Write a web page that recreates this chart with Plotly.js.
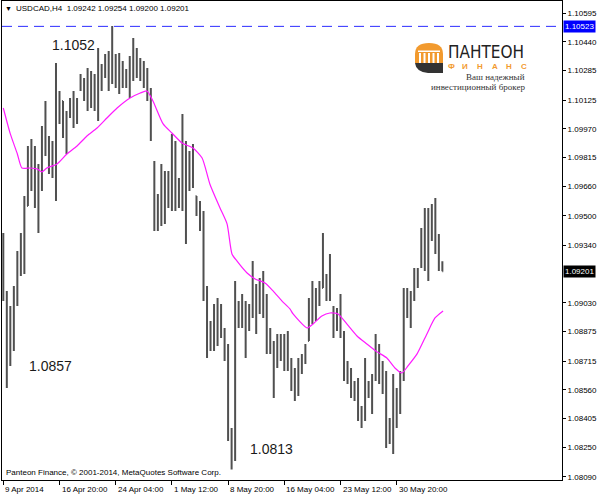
<!DOCTYPE html>
<html>
<head>
<meta charset="utf-8">
<script src="https://cdn.plot.ly/plotly-3.0.1.min.js"></script>
<style>
html,body{margin:0;padding:0;background:#fff;}
#chart{width:600px;height:496px;}
</style>
</head>
<body>
<div id="chart"></div>
<script>
// ---- DATA (USDCAD H4, bar index order) ----
const openP = [1.09337,1.09083,1.08824,1.08959,1.09067,1.09245,1.09337,1.09553,1.09796,1.09715,
1.09607,1.09715,1.09931,1.09904,1.09796,1.09850,1.10066,1.10120,1.09985,1.10039,
1.10093,1.10066,1.10185,1.10228,1.10174,1.10228,1.10147,1.10201,1.10309,1.10255,
1.10336,1.10282,1.10336,1.10255,1.10309,1.10228,1.10271,1.10336,1.10390,1.10309,
1.10282,1.10255,1.10174,1.09769,1.09499,1.09580,1.09688,1.09580,1.09661,1.09796,
1.09607,1.09661,1.09850,1.09742,1.09769,1.09607,1.09553,1.09499,1.09094,1.08851,
1.08878,1.08959,1.08986,1.08878,1.08770,1.08338,1.08203,1.09013,1.08959,1.09013,
1.08932,1.08986,1.09094,1.09040,1.09094,1.09040,1.08824,1.08797,1.08716,1.08797,
1.08770,1.08824,1.08716,1.08608,1.08581,1.08689,1.08716,1.08824,1.08986,1.09040,
1.09067,1.09110,1.09148,1.09121,1.08986,1.08932,1.08959,1.08851,1.08662,1.08635,
1.08554,1.08581,1.08446,1.08419,1.08581,1.08554,1.08635,1.08770,1.08635,1.08581,
1.08365,1.08338,1.08500,1.08527,1.08635,1.09040,1.09013,1.09067,1.09148,1.09229,
1.09391,1.09445,1.09499,1.09445,1.09364,1.09242];
const highP = [1.09407,1.09094,1.09013,1.09121,1.09310,1.09407,1.09607,1.09877,1.09915,1.09877,
1.09780,1.09985,1.10120,1.09931,1.09904,1.10325,1.10174,1.10120,1.10066,1.10136,
1.10174,1.10136,1.10266,1.10244,1.10298,1.10282,1.10266,1.10406,1.10320,1.10374,
1.10390,1.10525,1.10374,1.10379,1.10336,1.10293,1.10363,1.10460,1.10406,1.10352,
1.10336,1.10298,1.10190,1.09796,1.09618,1.09780,1.09742,1.09742,1.09942,1.09904,
1.09704,1.10050,1.09904,1.09850,1.09888,1.09607,1.09580,1.09526,1.09121,1.08932,
1.09024,1.09056,1.09024,1.08894,1.08808,1.08354,1.09148,1.09040,1.09078,1.09040,
1.09024,1.09256,1.09132,1.09164,1.09202,1.09078,1.08894,1.08824,1.08862,1.08862,
1.08862,1.08878,1.08732,1.08678,1.08732,1.08754,1.08808,1.09056,1.09148,1.09110,
1.09148,1.09407,1.09186,1.09294,1.09013,1.09002,1.09078,1.08878,1.08716,1.08678,
1.08608,1.08624,1.08473,1.08732,1.08608,1.08646,1.08862,1.08808,1.08716,1.08662,
1.08408,1.08646,1.08570,1.08662,1.09110,1.09110,1.09094,1.09218,1.09218,1.09434,
1.09542,1.09542,1.09564,1.09596,1.09402,1.09254];
const lowP = [1.09040,1.08570,1.08689,1.08770,1.09013,1.09175,1.09186,1.09553,1.09634,1.09542,
1.09407,1.09634,1.09823,1.09726,1.09704,1.09580,1.09996,1.09920,1.09834,1.10028,
1.09974,1.09996,1.10174,1.10120,1.10066,1.10082,1.10066,1.10012,1.10174,1.10244,
1.10174,1.10212,1.10190,1.10158,1.10190,1.10190,1.10136,1.10228,1.10244,1.10228,
1.10190,1.10120,1.09904,1.09418,1.09418,1.09445,1.09456,1.09542,1.09526,1.09526,
1.09542,1.09526,1.09348,1.09634,1.09650,1.09499,1.09418,1.09040,1.08732,1.08770,
1.08770,1.08797,1.08840,1.08716,1.08284,1.08130,1.08176,1.08894,1.08894,1.08732,
1.08878,1.08948,1.08862,1.08970,1.08948,1.08754,1.08754,1.08516,1.08678,1.08716,
1.08662,1.08662,1.08554,1.08500,1.08527,1.08646,1.08700,1.08824,1.08916,1.08932,
1.09013,1.09110,1.09040,1.09040,1.08840,1.08878,1.08840,1.08608,1.08592,1.08516,
1.08500,1.08392,1.08354,1.08392,1.08516,1.08430,1.08608,1.08592,1.08538,1.08246,
1.08268,1.08214,1.08354,1.08430,1.08608,1.08948,1.08894,1.09040,1.09110,1.09218,
1.09202,1.09148,1.09364,1.09294,1.09202,1.09200];
const closeP = [1.09083,1.08824,1.08959,1.09067,1.09245,1.09337,1.09553,1.09796,1.09715,1.09607,
1.09715,1.09931,1.09904,1.09796,1.09850,1.10066,1.10120,1.09985,1.10039,1.10093,
1.10066,1.10120,1.10228,1.10174,1.10228,1.10147,1.10201,1.10309,1.10255,1.10336,
1.10282,1.10336,1.10255,1.10309,1.10228,1.10271,1.10336,1.10390,1.10309,1.10282,
1.10255,1.10174,1.09931,1.09499,1.09580,1.09688,1.09580,1.09661,1.09796,1.09607,
1.09661,1.09850,1.09742,1.09769,1.09688,1.09553,1.09499,1.09094,1.08851,1.08878,
1.08959,1.08986,1.08878,1.08770,1.08338,1.08203,1.09013,1.08959,1.09013,1.08932,
1.08986,1.09148,1.09040,1.09094,1.09040,1.08824,1.08851,1.08716,1.08797,1.08770,
1.08824,1.08716,1.08608,1.08581,1.08689,1.08716,1.08770,1.08986,1.09040,1.09067,
1.09094,1.09202,1.09121,1.09067,1.08932,1.08959,1.08878,1.08662,1.08635,1.08554,
1.08581,1.08446,1.08419,1.08608,1.08554,1.08608,1.08770,1.08635,1.08581,1.08365,
1.08338,1.08500,1.08527,1.08635,1.09040,1.09013,1.09040,1.09148,1.09175,1.09391,
1.09445,1.09499,1.09445,1.09364,1.09256,1.09201];

// moving average (bar index, price)
const maIdx = [0,2,4,5.3,7.6,9.6,11,12.4,15.3,18.1,21,23.8,26.7,29.5,32.4,36.1,39,40.9,42.6,45.5,
48,50.9,54,56.6,58.8,61.7,63.7,65.1,66.5,69.4,71.7,74.5,76.8,79.3,81.6,82.5,86.5,88.2,90.7,93,
95.3,97.8,100.7,103.5,106.4,109.2,111.5,113.5,115.2,117.8,120.6,122.9,125.2];
const maVal = [1.10082,1.09942,1.09834,1.09758,1.09758,1.09753,1.09737,1.09758,1.09780,1.09834,
1.09877,1.09931,1.09974,1.10028,1.10082,1.10136,1.10163,1.10174,1.10120,1.09996,
1.09947,1.09893,1.09866,1.09812,1.09672,1.09542,1.09456,1.09294,1.09256,1.09191,
1.09159,1.09137,1.09094,1.09040,1.08997,1.08970,1.08894,1.08916,1.08959,1.08975,
1.08970,1.08916,1.08851,1.08808,1.08765,1.08732,1.08678,1.08651,1.08689,1.08754,
1.08862,1.08948,1.08986];

const yTickVals = [1.10595,1.10440,1.10285,1.10125,1.09970,1.09815,1.09660,1.09500,1.09340,
1.09030,1.08875,1.08715,1.08560,1.08405,1.08250,1.08090];
const xLabels = ['9 Apr 2014','16 Apr 20:00','24 Apr 04:00','1 May 12:00','8 May 20:00','16 May 04:00','23 May 12:00','30 May 20:00'];
const xLabelIdx = [0,16,32,48,64,80,96,112];
const levelLine = 1.10523;
const lastPrice = 1.09201;
const headerText = 'USDCAD,H4  1.09242 1.09254 1.09200 1.09201';
const extremes = [{t:'1.1052',px:50,py:45},{t:'1.0857',px:27,py:366},{t:'1.0813',px:248,py:449}];

// ---- LAYOUT HELPERS ----
const W=600,H=496,ML=2,MR=38,MT=1,MB=16;
const PW=W-ML-MR, PH=H-MT-MB;
const ppx = x => (x-ML)/PW;
const ppy = y => (H-MB-y)/PH;
const P = (x,y) => ppx(x).toFixed(5)+','+ppy(y).toFixed(5);

const xs = openP.map((_,i)=>i);
const FONT = 'Liberation Sans, Arial, sans-serif';

const traces = [
  {type:'ohlc', x:xs, open:openP, high:highP, low:lowP, close:closeP,
   increasing:{line:{color:'#505050',width:2}}, decreasing:{line:{color:'#505050',width:2}},
   tickwidth:0.25, hoverinfo:'skip', showlegend:false},
  {type:'scatter', mode:'lines', x:maIdx, y:maVal,
   line:{color:'#ff1aff',width:1.2,shape:'spline',smoothing:0.6}, hoverinfo:'skip', showlegend:false}
];

const ann = [];
ann.push({xref:'paper',yref:'paper',x:ppx(8),y:ppy(9),text:'▼',showarrow:false,
  xanchor:'center',yanchor:'middle',font:{family:FONT,size:7,color:'#000'}});
ann.push({xref:'paper',yref:'paper',x:ppx(14),y:ppy(9),text:headerText.replace(/  /g,'\u00a0 '),showarrow:false,
  xanchor:'left',yanchor:'middle',font:{family:FONT,size:8,color:'#000'}});
extremes.forEach(e=>ann.push({xref:'paper',yref:'paper',x:ppx(e.px),y:ppy(e.py),text:e.t,showarrow:false,
  xanchor:'left',yanchor:'middle',font:{family:FONT,size:14,color:'#1a1a1a'}}));
ann.push({xref:'paper',yref:'paper',x:ppx(4),y:ppy(472),text:'Panteon Finance, © 2001-2014, MetaQuotes Software Corp.',
  showarrow:false,xanchor:'left',yanchor:'middle',font:{family:FONT,size:8,color:'#000'}});
xLabels.forEach((t,k)=>ann.push({xref:'x',yref:'paper',x:xLabelIdx[k],y:0,yshift:-3,xshift:0,text:t,showarrow:false,
  xanchor:'left',yanchor:'top',font:{family:FONT,size:8,color:'#000'}}));
ann.push({xref:'paper',yref:'y',x:1,y:levelLine,xshift:1,text:levelLine.toFixed(5),showarrow:false,
  xanchor:'left',yanchor:'middle',bgcolor:'#0000ff',borderpad:1,font:{family:FONT,size:8,color:'#fff'}});
ann.push({xref:'paper',yref:'y',x:1,y:lastPrice,xshift:1,text:lastPrice.toFixed(5),showarrow:false,
  xanchor:'left',yanchor:'middle',bgcolor:'#000',borderpad:1,font:{family:FONT,size:8,color:'#fff'}});
// logo text
ann.push({xref:'paper',yref:'paper',x:ppx(446),y:ppy(51.5),text:'ПАНТЕОН',showarrow:false,
  xanchor:'left',yanchor:'middle',font:{family:'Liberation Sans Narrow, DejaVu Sans Condensed, sans-serif',size:17,color:'#222'}});
['Ф','И','Н','А','Н','С'].forEach((c,k)=>ann.push({xref:'paper',yref:'paper',x:ppx(451+k*14.5),y:ppy(66),text:c,showarrow:false,
  xanchor:'center',yanchor:'middle',font:{family:FONT,size:8,color:'#f29a2e',weight:'bold'}}));
ann.push({xref:'paper',yref:'paper',x:ppx(527),y:ppy(77),text:'Ваш надежный',showarrow:false,
  xanchor:'right',yanchor:'middle',font:{family:'Liberation Serif, DejaVu Serif, serif',size:9,color:'#333'}});
ann.push({xref:'paper',yref:'paper',x:ppx(527),y:ppy(87),text:'инвестиционный брокер',showarrow:false,
  xanchor:'right',yanchor:'middle',font:{family:'Liberation Serif, DejaVu Serif, serif',size:9,color:'#333'}});

const shapes = [
  {type:'line',xref:'paper',yref:'y',x0:0,x1:1,y0:levelLine,y1:levelLine,layer:'above',
   line:{color:'#2b2bff',width:1,dash:'10px,6px'}},
  {type:'path',xref:'paper',yref:'paper',layer:'above',fillcolor:'#f29a2e',line:{width:0},
   path:'M'+P(415,63)+' L'+P(415,54)+' Q'+P(415,43)+' '+P(429,43)+' Q'+P(443,43)+' '+P(443,54)+' L'+P(443,63)+' Z'},
  {type:'path',xref:'paper',yref:'paper',layer:'above',fillcolor:'#333',line:{width:0},
   path:'M'+P(415,63)+' L'+P(443,63)+' L'+P(443,73)+' L'+P(428,73)+' Q'+P(416,72)+' '+P(415,63)+' Z'}
];
[419,423.5,428,432.5,437].forEach(cx=>shapes.push({type:'rect',xref:'paper',yref:'paper',layer:'above',
  x0:ppx(cx),x1:ppx(cx+2),y0:ppy(63),y1:ppy(53),fillcolor:'#fff',line:{width:0}}));
shapes.push({type:'rect',xref:'paper',yref:'paper',layer:'above',x0:ppx(418),x1:ppx(440),y0:ppy(52),y1:ppy(50.5),fillcolor:'#fff',line:{width:0}});

const layout = {
  width:W,height:H,margin:{l:ML,r:MR,t:MT,b:MB,pad:0},
  paper_bgcolor:'#fff',plot_bgcolor:'#fff',showlegend:false,
  font:{family:FONT,size:8,color:'#000'},
  xaxis:{range:[-0.37,159.06],showgrid:false,zeroline:false,showline:true,mirror:true,linecolor:'#000',linewidth:1,
    ticks:'outside',ticklen:4,tickcolor:'#000',tickvals:xLabelIdx,showticklabels:false,
    rangeslider:{visible:false},fixedrange:true},
  yaxis:{side:'right',range:[1.08073,1.10660],showgrid:false,zeroline:false,showline:true,mirror:true,
    linecolor:'#000',linewidth:1,ticks:'outside',ticklen:3,tickcolor:'#000',tickvals:yTickVals,tickformat:'.5f',
    tickfont:{family:FONT,size:8,color:'#000'},fixedrange:true},
  annotations:ann, shapes:shapes
};
Plotly.newPlot('chart',traces,layout,{staticPlot:true,displayModeBar:false});
</script>
</body>
</html>
